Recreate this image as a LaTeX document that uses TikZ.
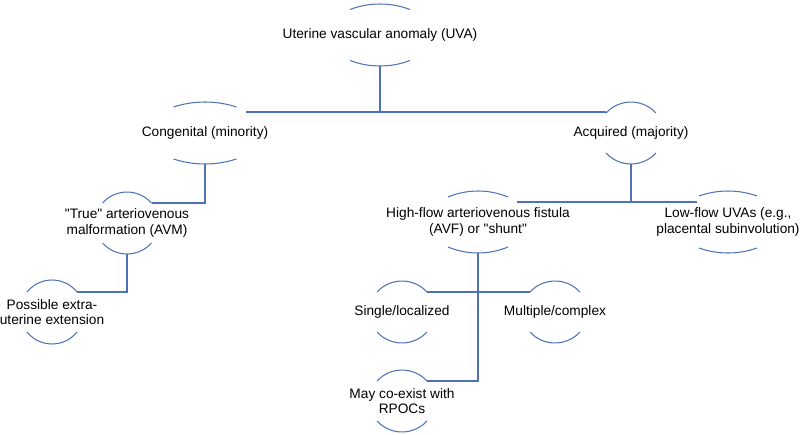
\documentclass[tikz,border=0pt]{standalone}
\usepackage{fontspec}
\setmainfont{Liberation Sans}[Ligatures=TeXOff]
\usetikzlibrary{calc}
\definecolor{lineblue}{RGB}{79,114,182}
\tikzset{
  lbl/.style={font=\fontsize{13.7}{15.2}\selectfont, align=center, inner sep=0pt, text=black},
  arcline/.style={draw=lineblue, line width=1.05pt},
  conn/.style={draw=lineblue, line width=1.05pt},
}
% #1 node, #2 half width, #3 end offset, #4 sag
\newcommand\nodearcs[4]{%
  \pgfmathsetmacro\myR{(#2*#2+#4*#4)/(2*#4)}%
  \pgfmathsetmacro\myph{asin(#2/\myR)}%
  \draw[arcline] ($(#1)+(-#2,#3)$) arc[start angle=90+\myph, end angle=90-\myph, radius=\myR];
  \draw[arcline] ($(#1)+(-#2,-#3)$) arc[start angle=270-\myph, end angle=270+\myph, radius=\myR];
  \coordinate (#1-t) at ($(#1)+(0,#3+#4)$);
  \coordinate (#1-b) at ($(#1)+(0,-#3-#4)$);
}
\begin{document}
\begin{tikzpicture}[x=1pt,y=1pt]
\useasboundingbox (0,0) rectangle (800,-434);
% nodes
\node[lbl] (uva)  at (380,-35)  {Uterine vascular anomaly (UVA)};
\node[lbl] (cong) at (205,-133) {Congenital (minority)};
\node[lbl] (acq)  at (631,-133) {Acquired (majority)};
\node[lbl] (avm)  at (127,-223) {"True" arteriovenous\\malformation (AVM)};
\node[lbl] (ext)  at (52,-312)  {Possible extra-\\uterine extension};
\node[lbl] (hf)   at (478,-222) {High-flow arteriovenous fistula\\(AVF) or "shunt"};
\node[lbl] (lf)   at (728,-222) {Low-flow UVAs (e.g.,\\placental subinvolution)};
\node[lbl] (sing) at (402,-312) {Single/localized};
\node[lbl] (mult) at (555,-312) {Multiple/complex};
\node[lbl] (rpoc) at (402,-401) {May co-exist with\\RPOCs};
% arcs
\nodearcs{uva}{30}{25.5}{5.5}
\nodearcs{cong}{31.5}{26}{5}
\nodearcs{acq}{25}{20}{11}
\nodearcs{avm}{24.5}{20}{11}
\nodearcs{ext}{25}{20}{12}
\nodearcs{hf}{30}{25}{6}
\nodearcs{lf}{29}{26}{5}
\nodearcs{sing}{25}{20}{11}
\nodearcs{mult}{25}{20}{11}
\nodearcs{rpoc}{25}{20}{11}
% connector ends
\coordinate (cong-r) at ($(cong)+(41,21)$);
\coordinate (acq-l)  at ($(acq)+(-25,21)$);
\coordinate (avm-r)  at ($(avm)+(25,20)$);
\coordinate (ext-r)  at ($(ext)+(25,20)$);
\coordinate (hf-r)   at ($(hf)+(39,20)$);
\coordinate (lf-l)   at ($(lf)+(-31,20)$);
\coordinate (sing-r) at ($(sing)+(25,20)$);
\coordinate (mult-l) at ($(mult)+(-25,20)$);
\coordinate (rpoc-r) at ($(rpoc)+(25,20)$);
% connectors
\draw[conn] (uva-b) |- (cong-r);
\draw[conn] (uva-b) |- (acq-l);
\draw[conn] (cong-b) |- (avm-r);
\draw[conn] (avm-b) |- (ext-r);
\draw[conn] (acq-b) |- (hf-r);
\draw[conn] (acq-b) |- (lf-l);
\draw[conn] (hf-b) |- (rpoc-r);
\draw[conn] (sing-r) -- (mult-l);
\end{tikzpicture}
\end{document}
